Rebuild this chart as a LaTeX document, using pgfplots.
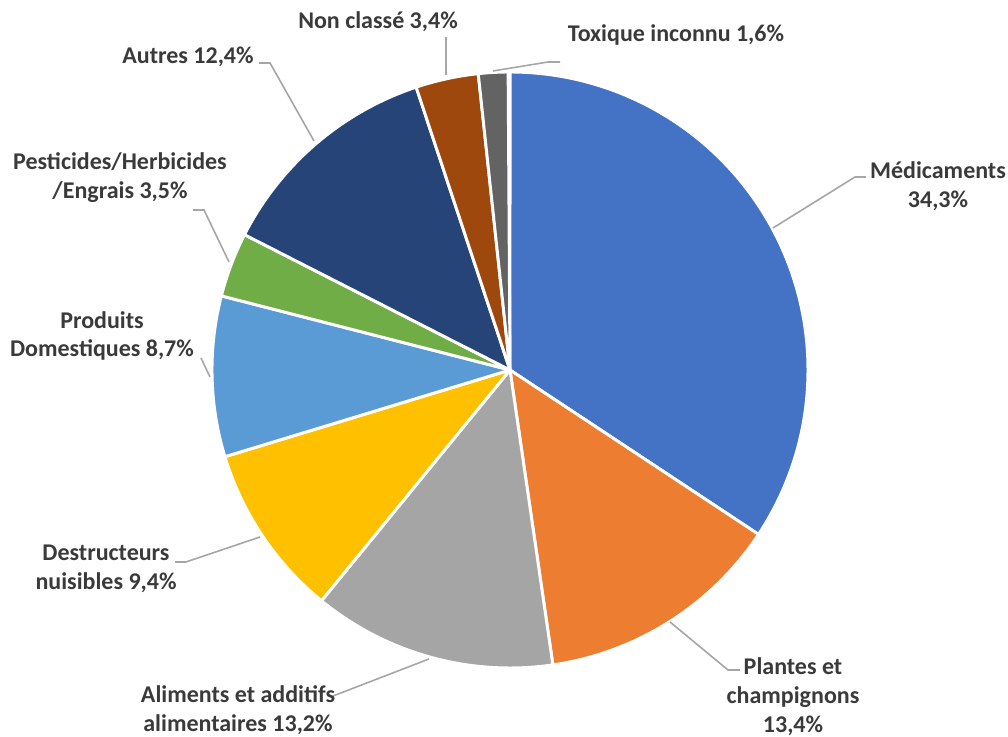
\documentclass[border=0pt]{standalone}
\usepackage{pgfplots}
\pgfplotsset{compat=1.18}
\usepackage{fontspec}
\setmainfont{Carlito}
\definecolor{cMed}{HTML}{4472C4}
\definecolor{cPla}{HTML}{ED7D31}
\definecolor{cAli}{HTML}{A5A5A5}
\definecolor{cDes}{HTML}{FFC000}
\definecolor{cPro}{HTML}{5B9BD5}
\definecolor{cPes}{HTML}{70AD47}
\definecolor{cAut}{HTML}{264478}
\definecolor{cNon}{HTML}{9E480E}
\definecolor{cTox}{HTML}{636363}
\definecolor{labtext}{HTML}{3A3A3A}
\definecolor{leadc}{HTML}{A6A6A6}
\tikzset{
  lab/.style={font=\bfseries\fontsize{18}{21.6}\selectfont, text=labtext, align=center, inner sep=0pt},
  lead/.style={draw=leadc, line width=1.2pt}
}
\begin{document}
\begin{tikzpicture}
\useasboundingbox (0,0) rectangle (756pt,552.75pt);
\begin{axis}[at={(0,0)}, anchor=south west, scale only axis,
  width=756pt, height=552.75pt,
  xmin=0, xmax=1008, ymin=-737, ymax=0,
  hide axis, clip=false]
\def\curang{90}
\foreach \v/\c in {34.3/cMed,13.4/cPla,13.2/cAli,9.4/cDes,8.7/cPro,3.5/cPes,12.4/cAut,3.4/cNon,1.6/cTox}{
  \pgfmathsetmacro\endang{\curang-3.6*\v}
  \edef\temp{\noexpand\addplot[fill=\c, draw=white, line width=2.2pt, line join=round, domain=\endang:\curang, samples=90] ({510+298*cos(x)},{-370+298*sin(x)}) -- (axis cs:510,-370) -- cycle;}
  \temp
  \global\let\curang\endang
}
% leader lines
\draw[lead] (axis cs:773,-228) -- (axis cs:855,-177) -- (axis cs:866,-177);
\draw[lead] (axis cs:670,-622) -- (axis cs:728,-670) -- (axis cs:740,-670);
\draw[lead] (axis cs:429,-659) -- (axis cs:333,-696);
\draw[lead] (axis cs:260,-537) -- (axis cs:186,-562) -- (axis cs:175,-562);
\draw[lead] (axis cs:210,-377) -- (axis cs:201,-358);
\draw[lead] (axis cs:229,-262) -- (axis cs:204,-210) -- (axis cs:193,-210);
\draw[lead] (axis cs:314,-141) -- (axis cs:270,-63) -- (axis cs:259,-63);
\draw[lead] (axis cs:446,-75) -- (axis cs:446,-37);
\draw[lead] (axis cs:493,-71) -- (axis cs:548,-62) -- (axis cs:560,-62);
% labels
\node[lab] at (axis cs:938,-186) {Médicaments\\34,3\%};
\node[lab] at (axis cs:793,-697) {Plantes et\\champignons\\13,4\%};
\node[lab] at (axis cs:238,-710) {Aliments et additifs\\alimentaires 13,2\%};
\node[lab] at (axis cs:106,-569) {Destructeurs\\nuisibles 9,4\%};
\node[lab] at (axis cs:102,-336) {Produits\\Domestiques 8,7\%};
\node[lab] at (axis cs:120,-178) {Pesticides/Herbicides\\/Engrais 3,5\%};
\node[lab] at (axis cs:188,-57) {Autres 12,4\%};
\node[lab] at (axis cs:378,-22) {Non classé 3,4\%};
\node[lab] at (axis cs:676,-35) {Toxique inconnu 1,6\%};
\end{axis}
\end{tikzpicture}
\end{document}
